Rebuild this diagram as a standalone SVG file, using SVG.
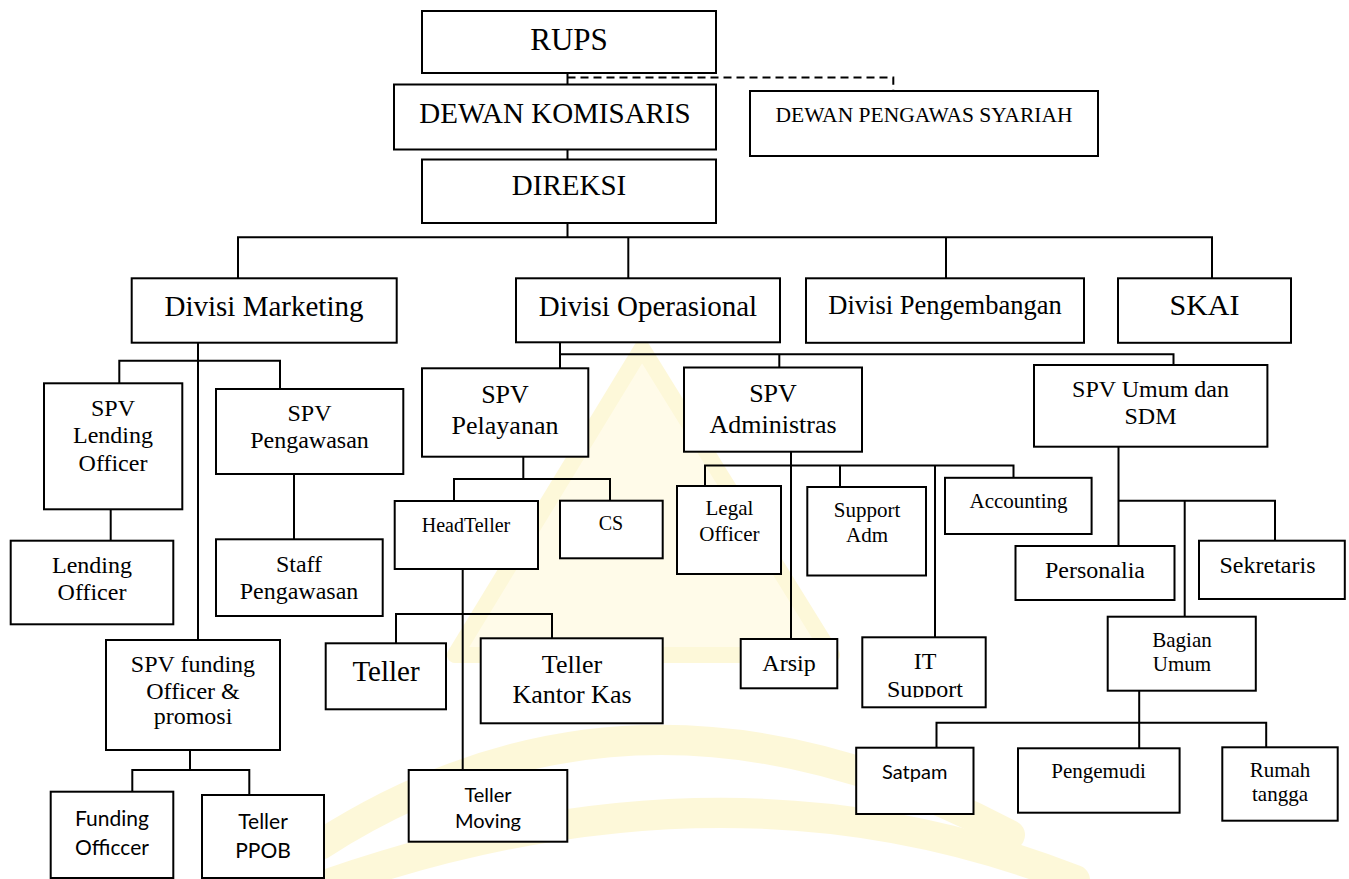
<svg xmlns="http://www.w3.org/2000/svg" width="1349" height="879" viewBox="0 0 1349 879">
<style>
  .box { fill: #ffffff; stroke: #000000; stroke-width: 2; }
  .ln { fill: none; stroke: #000000; stroke-width: 2; }
  .dash { fill: none; stroke: #000000; stroke-width: 2; stroke-dasharray: 8 5; }
  .t { font-family: "Liberation Serif", "Times New Roman", serif; fill: #000000; text-anchor: middle; }
  .s { font-family: Lato, "Liberation Sans", sans-serif; fill: #000000; text-anchor: middle; }
  .wm { fill: none; stroke: #FCEFA6; stroke-linecap: round; }
</style>
<defs>
  <clipPath id="clipIT"><rect x="862" y="637" width="124" height="60.5"/></clipPath>
</defs>
<rect x="0" y="0" width="1349" height="879" fill="#ffffff"/>

<g id="watermark" opacity="0.42">
  <path d="M642,348 L455,655 L832,655 Z" fill="#FFF7CC"/>
  <path d="M642,348 L455,655 L832,655 Z" class="wm" stroke-width="16" stroke-linejoin="round"/>
  <path d="M320,845 Q640,640 1010,835" class="wm" stroke-width="30"/>
  <path d="M305,892 Q720,740 1075,880" class="wm" stroke-width="30"/>
</g>

<g id="connectors">
  <path class="ln" d="M567.5,73 V84.5"/>
  <path class="dash" d="M567.5,77.5 H893.3 V91"/>
  <path class="ln" d="M567.5,149.5 V159.5"/>
  <path class="ln" d="M567.5,223 V237.3"/>
  <path class="ln" d="M238,278.3 V237.3 H1212 V278.3"/>
  <path class="ln" d="M628.3,237.3 V278.3"/>
  <path class="ln" d="M946,237.3 V278.3"/>
  <path class="ln" d="M198,342.7 V640"/>
  <path class="ln" d="M119.3,383.3 V360.7 H280 V389"/>
  <path class="ln" d="M110.7,509.3 V540.7"/>
  <path class="ln" d="M294,474 V539.3"/>
  <path class="ln" d="M190,750 V770"/>
  <path class="ln" d="M132.3,791.7 V770 H249.3 V795"/>
  <path class="ln" d="M560,342.3 V368.3"/>
  <path class="ln" d="M560,354.3 H1173.5 V365"/>
  <path class="ln" d="M779.3,354.3 V367.5"/>
  <path class="ln" d="M523.3,456.7 V479"/>
  <path class="ln" d="M454,501 V479 H610 V500.7"/>
  <path class="ln" d="M462.7,569 V770"/>
  <path class="ln" d="M396,643.3 V614 H552 V638.3"/>
  <path class="ln" d="M791,451.7 V639"/>
  <path class="ln" d="M705,486 V465.6 H1013.5 V477.8"/>
  <path class="ln" d="M840,465.6 V487"/>
  <path class="ln" d="M935,465.6 V637.3"/>
  <path class="ln" d="M1118.5,446.7 V546"/>
  <path class="ln" d="M1118.5,500.7 H1275 V540.7"/>
  <path class="ln" d="M1184.7,500.7 V616.7"/>
  <path class="ln" d="M1139.2,690.7 V748.3"/>
  <path class="ln" d="M936.5,747.7 V722.7 H1266.2 V747.3"/>
</g>

<g id="rups"><rect class="box" x="422" y="11" width="294" height="62"/><text class="t" x="569" y="50" font-size="31">RUPS</text></g>
<g id="dewan-komisaris"><rect class="box" x="394" y="84.5" width="322" height="65"/><text class="t" x="555" y="123" font-size="29">DEWAN KOMISARIS</text></g>
<g id="dewan-pengawas-syariah"><rect class="box" x="750" y="91" width="348" height="65"/><text class="t" x="924" y="122" font-size="21.5">DEWAN PENGAWAS SYARIAH</text></g>
<g id="direksi"><rect class="box" x="422" y="159.5" width="294" height="63.5"/><text class="t" x="569" y="195" font-size="29">DIREKSI</text></g>

<g id="divisi-marketing"><rect class="box" x="131.7" y="278.3" width="265" height="64.4"/><text class="t" x="264" y="316" font-size="29">Divisi Marketing</text></g>
<g id="divisi-operasional"><rect class="box" x="516" y="278.3" width="264" height="64"/><text class="t" x="648" y="315.7" font-size="29">Divisi Operasional</text></g>
<g id="divisi-pengembangan"><rect class="box" x="806" y="278.3" width="278" height="64.5"/><text class="t" x="945" y="314" font-size="26.5">Divisi Pengembangan</text></g>
<g id="skai"><rect class="box" x="1118" y="278.3" width="173" height="64.5"/><text class="t" x="1204.5" y="315" font-size="30">SKAI</text></g>

<g id="spv-lending-officer"><rect class="box" x="44" y="383.3" width="138.3" height="126"/><text class="t" font-size="24"><tspan x="113" y="415.7">SPV</tspan><tspan x="113" y="443.3">Lending</tspan><tspan x="113" y="470.7">Officer</tspan></text></g>
<g id="spv-pengawasan"><rect class="box" x="216" y="389" width="187.3" height="85"/><text class="t" font-size="24"><tspan x="309.5" y="421">SPV</tspan><tspan x="309.5" y="448.3">Pengawasan</tspan></text></g>
<g id="lending-officer"><rect class="box" x="10.7" y="540.7" width="162.6" height="83.6"/><text class="t" font-size="24"><tspan x="92" y="573.3">Lending</tspan><tspan x="92" y="600">Officer</tspan></text></g>
<g id="staff-pengawasan"><rect class="box" x="216" y="539.3" width="166.7" height="76.7"/><text class="t" font-size="24"><tspan x="299" y="571.7">Staff</tspan><tspan x="299" y="599">Pengawasan</tspan></text></g>
<g id="spv-funding"><rect class="box" x="106" y="640" width="174" height="110"/><text class="t" font-size="24"><tspan x="193" y="671.7">SPV funding</tspan><tspan x="193" y="699.3">Officer &amp;</tspan><tspan x="193" y="724">promosi</tspan></text></g>
<g id="funding-officcer"><rect class="box" x="50.7" y="791.7" width="122.6" height="86.3"/><text class="s" font-size="21"><tspan x="112" y="826">Funding</tspan><tspan x="112" y="855">Officcer</tspan></text></g>
<g id="teller-ppob"><rect class="box" x="202" y="795" width="122" height="83"/><text class="s" font-size="21"><tspan x="263" y="829.3">Teller</tspan><tspan x="263" y="857.7">PPOB</tspan></text></g>

<g id="spv-pelayanan"><rect class="box" x="422" y="368.3" width="166.3" height="88.4"/><text class="t" font-size="26"><tspan x="505" y="403.3">SPV</tspan><tspan x="505" y="434">Pelayanan</tspan></text></g>
<g id="headteller"><rect class="box" x="394.7" y="501" width="143.3" height="68"/><text class="t" x="466" y="531.7" font-size="20">HeadTeller</text></g>
<g id="cs"><rect class="box" x="560" y="500.7" width="102.7" height="57.6"/><text class="t" x="611" y="530" font-size="20">CS</text></g>
<g id="teller"><rect class="box" x="325.7" y="643.3" width="120.3" height="66"/><text class="t" x="386" y="680.7" font-size="29">Teller</text></g>
<g id="teller-kantor-kas"><rect class="box" x="480.7" y="638.3" width="182" height="85"/><text class="t" font-size="26"><tspan x="572" y="672.7">Teller</tspan><tspan x="572" y="703.3">Kantor Kas</tspan></text></g>
<g id="teller-moving"><rect class="box" x="408.7" y="770" width="158.6" height="71.7"/><text class="s" font-size="20"><tspan x="488" y="801.7">Teller</tspan><tspan x="488" y="828.3">Moving</tspan></text></g>

<g id="spv-administras"><rect class="box" x="684" y="367.5" width="178" height="84.2"/><text class="t" font-size="26"><tspan x="773" y="401.7">SPV</tspan><tspan x="773" y="432.7">Administras</tspan></text></g>
<g id="legal-officer"><rect class="box" x="677" y="486" width="104" height="88"/><text class="t" font-size="21"><tspan x="729.4" y="515">Legal</tspan><tspan x="729.4" y="540.7">Officer</tspan></text></g>
<g id="support-adm"><rect class="box" x="807.3" y="487" width="118.7" height="88.5"/><text class="t" font-size="21"><tspan x="867" y="516.7">Support</tspan><tspan x="867" y="541.7">Adm</tspan></text></g>
<g id="accounting"><rect class="box" x="945" y="477.8" width="146.6" height="56.2"/><text class="t" x="1018.5" y="508.3" font-size="21">Accounting</text></g>
<g id="arsip"><rect class="box" x="740.7" y="639" width="96.6" height="49.3"/><text class="t" x="789" y="670.7" font-size="24">Arsip</text></g>
<g id="it-support"><rect class="box" x="862.3" y="637.3" width="123.4" height="70"/><text class="t" font-size="24" clip-path="url(#clipIT)"><tspan x="925" y="669.3">IT</tspan><tspan x="925" y="697">Support</tspan></text></g>

<g id="spv-umum-sdm"><rect class="box" x="1034" y="365" width="233.4" height="81.7"/><text class="t" font-size="24"><tspan x="1150.5" y="397.3">SPV Umum dan</tspan><tspan x="1150.5" y="424.3">SDM</tspan></text></g>
<g id="personalia"><rect class="box" x="1015.5" y="546" width="159" height="54"/><text class="t" x="1095" y="577.7" font-size="24">Personalia</text></g>
<g id="sekretaris"><rect class="box" x="1199" y="540.7" width="145.8" height="58.3"/><text class="t" x="1267.5" y="573.3" font-size="24">Sekretaris</text></g>
<g id="bagian-umum"><rect class="box" x="1107.7" y="616.7" width="148.1" height="74"/><text class="t" font-size="21"><tspan x="1182" y="646.7">Bagian</tspan><tspan x="1182" y="671">Umum</tspan></text></g>
<g id="satpam"><rect class="box" x="856.2" y="747.7" width="117.3" height="66.3"/><text class="s" x="914.7" y="779" font-size="20">Satpam</text></g>
<g id="pengemudi"><rect class="box" x="1018" y="748.3" width="161.6" height="64.4"/><text class="t" x="1098.5" y="778.3" font-size="21">Pengemudi</text></g>
<g id="rumah-tangga"><rect class="box" x="1222.3" y="747.3" width="115.4" height="73.4"/><text class="t" font-size="21"><tspan x="1280" y="776.7">Rumah</tspan><tspan x="1280" y="801">tangga</tspan></text></g>
</svg>
